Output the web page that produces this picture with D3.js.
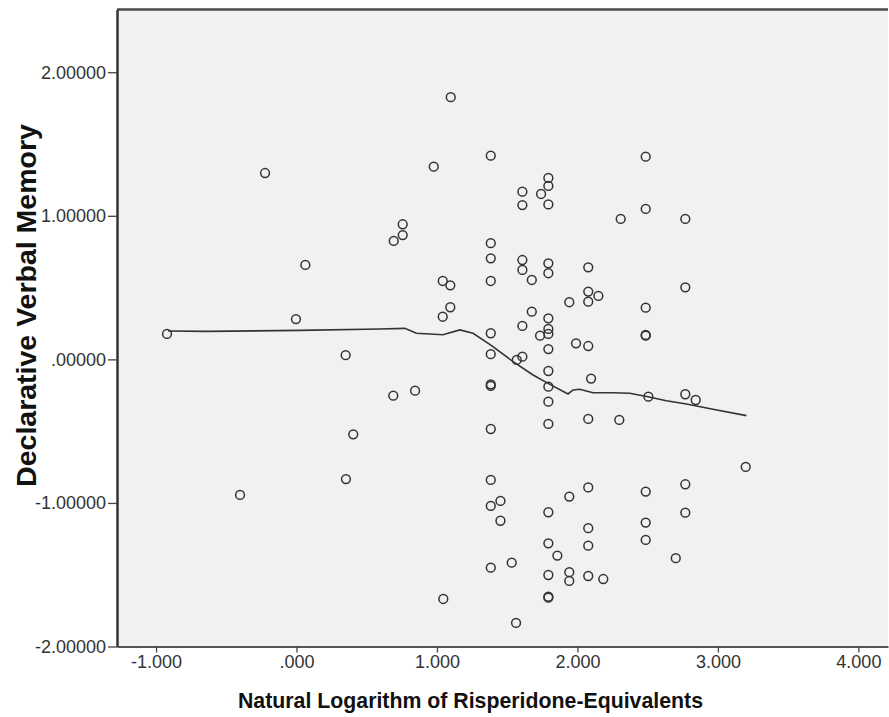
<!DOCTYPE html>
<html>
<head>
<meta charset="utf-8">
<script src="https://cdn.jsdelivr.net/npm/d3@7/dist/d3.min.js"></script>
<style>
  body { margin: 0; background: #fff; }
  svg { display: block; font-family: "Liberation Sans", Arial, sans-serif; }
</style>
</head>
<body>
<svg width="889" height="717"></svg>
<script>
// scatter values
var logDose = [
  -0.922, -0.224, -0.402, 0.063, -0.004, 0.350, 0.352, 0.404, 0.692, 0.756,
  0.756, 0.689, 0.844, 0.977, 1.098, 1.041, 1.095, 1.095, 1.041, 1.045,
  1.383, 1.383, 1.383, 1.383, 1.383, 1.383, 1.383, 1.383, 1.383, 1.383,
  1.383, 1.383, 1.452, 1.452, 1.532, 1.563, 1.568, 1.608, 1.608, 1.608,
  1.608, 1.608, 1.608, 1.675, 1.675, 1.734, 1.741, 1.793, 1.793, 1.793,
  1.793, 1.793, 1.793, 1.793, 1.793, 1.793, 1.793, 1.793, 1.793, 1.793,
  1.793, 1.793, 1.793, 1.793, 1.793, 1.857, 1.942, 1.942, 1.942, 1.942,
  1.990, 2.077, 2.077, 2.077, 2.077, 2.077, 2.077, 2.077, 2.077, 2.077,
  2.097, 2.149, 2.184, 2.308, 2.298, 2.486, 2.486, 2.486, 2.486, 2.486,
  2.486, 2.486, 2.486, 2.505, 2.768, 2.768, 2.768, 2.768, 2.768, 2.842,
  2.700, 3.198
];
var memory = [
  0.177, 1.298, -0.944, 0.658, 0.281, 0.029, -0.834, -0.522, 0.825, 0.941,
  0.866, -0.253, -0.218, 1.342, 1.826, 0.546, 0.516, 0.363, 0.297, -1.669,
  1.419, 0.809, 0.704, 0.546, 0.182, 0.036, -0.174, -0.185, -0.485, -0.840,
  -1.021, -1.451, -0.986, -1.124, -1.416, -1.836, -0.004, 1.168, 1.075, 0.692,
  0.623, 0.233, 0.019, 0.553, 0.332, 0.165, 1.152, 1.264, 1.208, 1.079,
  0.669, 0.600, 0.286, 0.212, 0.177, 0.072, -0.081, -0.190, -0.295, -0.450,
  -1.065, -1.281, -1.502, -1.653, -1.660, -1.367, 0.398, -0.956, -1.482, -1.543,
  0.112, 0.641, 0.472, 0.402, 0.093, -0.415, -0.892, -1.176, -1.298, -1.509,
  -0.134, 0.442, -1.530, 0.978, -0.422, 1.412, 1.048, 0.360, 0.165, 0.170,
  -0.921, -1.137, -1.258, -0.260, 0.978, 0.502, -0.243, -0.870, -1.068, -0.283,
  -1.385, -0.749
];

// loess fit line
var fitX = [-0.914, -0.638, 0.023, 0.593, 0.771, 0.854, 1.043, 1.162, 1.257, 1.381,
  1.542, 1.684, 1.791, 1.933, 1.969, 2.016, 2.111, 2.253, 2.372, 2.502,
  2.633, 2.776, 2.965, 3.203];
var fitY = [0.198, 0.195, 0.202, 0.212, 0.216, 0.182, 0.172, 0.205, 0.182, 0.101,
  -0.016, -0.109, -0.167, -0.241, -0.213, -0.208, -0.232, -0.232, -0.236, -0.260,
  -0.288, -0.311, -0.348, -0.392];

var xTicks = [-1, 0, 1, 2, 3, 4];
var yTicks = [-2, -1, 0, 1, 2];

var svg = d3.select("svg");
var pLeft = 117, pRight = 888, pTop = 9.5, pBottom = 646.5;

var x = d3.scaleLinear().domain([-1.278, 4.211]).range([pLeft, pRight]);
var y = d3.scaleLinear().domain([-2, 2.437]).range([pBottom, pTop]);

// SPSS style: hyphen minus, no leading zero
function trim(s) { return s.replace("\u2212", "-").replace(/^(-?)0\./, "$1."); }

svg.append("rect")
  .attr("x", pLeft).attr("y", pTop)
  .attr("width", pRight - pLeft).attr("height", pBottom - pTop)
  .attr("fill", "#f1f1f1");

// top border
svg.append("line")
  .attr("x1", pLeft).attr("x2", pRight)
  .attr("y1", pTop).attr("y2", pTop)
  .attr("stroke", "#4a4a4a").attr("stroke-width", 2.5);

var xAxis = svg.append("g")
  .attr("transform", "translate(0," + pBottom + ")")
  .call(d3.axisBottom(x).tickValues(xTicks).tickSize(6).tickSizeOuter(0)
    .tickFormat(function(d) { return trim(d3.format(".3f")(d)); }));
xAxis.select(".domain").attr("stroke", "#555").attr("stroke-width", 2);
xAxis.selectAll(".tick line").attr("stroke", "#444").attr("stroke-width", 1.3);
xAxis.selectAll("text")
  .attr("font-size", 18).attr("fill", "#333").attr("y", 9)
  .style("font-family", "'Liberation Sans', Arial, sans-serif");

var yAxis = svg.append("g")
  .attr("transform", "translate(" + pLeft + ",0)")
  .call(d3.axisLeft(y).tickValues(yTicks).tickSize(9).tickSizeOuter(0)
    .tickFormat(function(d) { return trim(d3.format(".5f")(d)); }));
yAxis.select(".domain").attr("stroke", "#333").attr("stroke-width", 2.5);
yAxis.selectAll(".tick line").attr("stroke", "#444").attr("stroke-width", 1.3);
yAxis.selectAll("text")
  .attr("font-size", 18).attr("fill", "#333").attr("x", -11)
  .style("font-family", "'Liberation Sans', Arial, sans-serif");

var line = d3.line()
  .x(function(d) { return x(d[0]); })
  .y(function(d) { return y(d[1]); });

svg.append("path")
  .datum(d3.zip(fitX, fitY))
  .attr("d", line)
  .attr("fill", "none")
  .attr("stroke", "#333")
  .attr("stroke-width", 1.6);

svg.append("g").selectAll("circle")
  .data(d3.zip(logDose, memory))
  .enter()
  .append("circle")
  .attr("cx", function(d) { return x(d[0]); })
  .attr("cy", function(d) { return y(d[1]); })
  .attr("r", 4.4)
  .attr("fill", "none")
  .attr("stroke", "#333")
  .attr("stroke-width", 1.5);

svg.append("text")
  .attr("x", 470.5).attr("y", 708)
  .attr("text-anchor", "middle")
  .attr("font-size", 21.3).attr("font-weight", "bold").attr("fill", "#111")
  .text("Natural Logarithm of Risperidone-Equivalents");

svg.append("text")
  .attr("transform", "translate(36,305.5) rotate(-90)")
  .attr("text-anchor", "middle")
  .attr("font-size", 28.5).attr("font-weight", "bold").attr("fill", "#111")
  .text("Declarative Verbal Memory");
</script>
</body>
</html>
